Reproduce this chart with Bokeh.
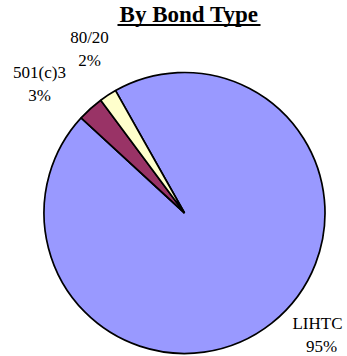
import math
from bokeh.plotting import figure
from bokeh.models import Range1d, Label
from bokeh.core.properties import value
from bokeh.embed import file_html
from bokeh.resources import INLINE

# ---- data ----
categories = ["LIHTC", "501(c)3", "80/20"]
values = [95, 3, 2]
colors = ["#9999FF", "#993366", "#FFFFCC"]
chart_title = "By Bond Type"

# ---- layout ----
W, H = 347, 356
cx, cy_screen, r = 184, 212.5, 140.5
start_deg = 119.4  # where the first slice starts, going clockwise
# label centres (screen coords): name line, percent line
label_pos = {
    "LIHTC": ((317, 323), (321, 346)),
    "501(c)3": ((39, 72), (39, 95)),
    "80/20": ((89, 37), (89, 60)),
}
font = "Liberation Serif"


def sy(y):
    return H - y


p = figure(width=W, height=H, x_range=Range1d(0, W), y_range=Range1d(0, H),
           output_backend="svg", toolbar_location=None, min_border=0)
p.axis.visible = False
p.grid.visible = False
p.outline_line_color = None
p.background_fill_color = "white"
p.border_fill_color = "white"

total = float(sum(values))
cum = 0.0
for cat, v, c in zip(categories, values, colors):
    a_end = math.radians(start_deg - cum / total * 360.0)
    cum += v
    a_start = math.radians(start_deg - cum / total * 360.0)
    p.wedge(x=cx, y=sy(cy_screen), radius=r,
            start_angle=a_start, end_angle=a_end,
            fill_color=c, line_color="black", line_width=1.7)

for cat, v in zip(categories, values):
    (nx, ny), (px, py) = label_pos[cat]
    p.text(x=[nx], y=[sy(ny)], text=[cat], text_font=value(font),
           text_font_size="17px", text_align="center", text_baseline="middle",
           text_color="black")
    p.text(x=[px], y=[sy(py)], text=[f"{v}%"], text_font=value(font),
           text_font_size="17px", text_align="center", text_baseline="middle",
           text_color="black")

# title with underline
p.add_layout(Label(x=188.5, y=sy(14), text=chart_title, text_font=font,
                   text_font_size="23px", text_font_style="bold",
                   text_align="center", text_baseline="middle",
                   text_color="black"))
p.segment(x0=[117], y0=[sy(24.5)], x1=[260], y1=[sy(24.5)],
          line_color="black", line_width=2)

open("out.html", "w").write(file_html(p, INLINE))
